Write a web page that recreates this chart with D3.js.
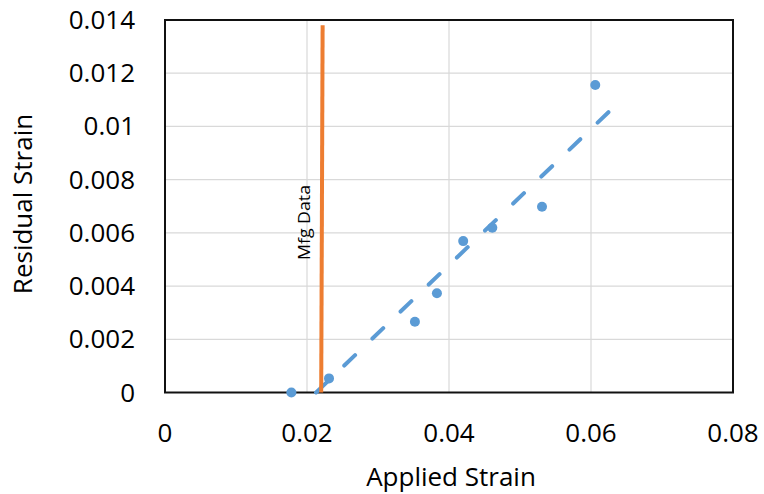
<!DOCTYPE html>
<html>
<head>
<meta charset="utf-8">
<script src="https://d3js.org/d3.v7.min.js"></script>
<style>
  body { margin: 0; background: #fff; }
  text { font-family: "Open Sans", sans-serif; fill: #000; }
</style>
</head>
<body>
<div id="chart"></div>
<script>
// measured points
const appliedStrain = [0.0178, 0.0231, 0.0352, 0.0383, 0.0420, 0.0461, 0.0531, 0.0606];
const residualStrain = [0.0000, 0.00053, 0.00266, 0.00373, 0.00569, 0.00619, 0.00698, 0.01156];
// manufacturer line
const mfgX = [0.0220, 0.0222];
const mfgY = [0, 0.0138];
const trendEnd = 0.0628;
const xTicks = [0, 0.02, 0.04, 0.06, 0.08];
const yTicks = [0, 0.002, 0.004, 0.006, 0.008, 0.01, 0.012, 0.014];

const width = 764, height = 494;
const plotLeft = 165, plotRight = 733, plotTop = 20, plotBottom = 392.5;

const svg = d3.select("#chart")
  .append("svg")
  .attr("width", width)
  .attr("height", height);

const xScale = d3.scaleLinear().domain([0, 0.08]).range([plotLeft, plotRight]);
const yScale = d3.scaleLinear().domain([0, 0.014]).range([plotBottom, plotTop]);

// gridlines
svg.append("g")
  .selectAll("line")
  .data(yTicks.slice(1, -1))
  .join("line")
  .attr("x1", plotLeft).attr("x2", plotRight)
  .attr("y1", d => yScale(d)).attr("y2", d => yScale(d))
  .attr("stroke", "#d9d9d9").attr("stroke-width", 1.2);

svg.append("g")
  .selectAll("line")
  .data(xTicks.slice(1, -1))
  .join("line")
  .attr("y1", plotTop).attr("y2", plotBottom)
  .attr("x1", d => xScale(d)).attr("x2", d => xScale(d))
  .attr("stroke", "#d9d9d9").attr("stroke-width", 1.2);

// border
svg.append("rect")
  .attr("x", plotLeft).attr("y", plotTop)
  .attr("width", plotRight - plotLeft).attr("height", plotBottom - plotTop)
  .attr("fill", "none")
  .attr("stroke", "#111").attr("stroke-width", 2);

// tick labels
svg.append("g")
  .selectAll("text")
  .data(xTicks)
  .join("text")
  .attr("x", d => xScale(d))
  .attr("y", 442)
  .attr("text-anchor", "middle")
  .attr("font-size", "26px")
  .text(d => d);

svg.append("g")
  .selectAll("text")
  .data(yTicks)
  .join("text")
  .attr("x", 135)
  .attr("y", d => yScale(d) + 9)
  .attr("text-anchor", "end")
  .attr("font-size", "26px")
  .text(d => d);

// axis titles
svg.append("text")
  .attr("x", 451).attr("y", 486)
  .attr("text-anchor", "middle")
  .attr("font-size", "26px")
  .text("Applied Strain");

svg.append("text")
  .attr("transform", "translate(32,204) rotate(-90)")
  .attr("text-anchor", "middle")
  .attr("font-size", "26px")
  .text("Residual Strain");

// linear trendline (least squares)
const mx = d3.mean(appliedStrain), my = d3.mean(residualStrain);
const slope = d3.sum(appliedStrain, (x, i) => (x - mx) * (residualStrain[i] - my)) /
  d3.sum(appliedStrain, x => (x - mx) * (x - mx));
const intercept = my - slope * mx;
const trendStart = -intercept / slope;

svg.append("line")
  .attr("x1", xScale(trendStart)).attr("y1", yScale(0))
  .attr("x2", xScale(trendEnd)).attr("y2", yScale(slope * trendEnd + intercept))
  .attr("stroke", "#5b9bd5")
  .attr("stroke-width", 4)
  .attr("stroke-linecap", "round")
  .attr("stroke-dasharray", "15,24");

// points
svg.append("g")
  .selectAll("circle")
  .data(appliedStrain)
  .join("circle")
  .attr("cx", d => xScale(d))
  .attr("cy", (_, i) => yScale(residualStrain[i]))
  .attr("r", 5)
  .attr("fill", "#5b9bd5");

// manufacturer line
svg.append("line")
  .attr("x1", xScale(mfgX[0])).attr("y1", yScale(mfgY[0]))
  .attr("x2", xScale(mfgX[1])).attr("y2", yScale(mfgY[1]))
  .attr("stroke", "#ed7d31")
  .attr("stroke-width", 4);

svg.append("text")
  .attr("transform", "translate(310,222.5) rotate(-90)")
  .attr("text-anchor", "middle")
  .attr("font-size", "17px")
  .attr("textLength", 75)
  .attr("lengthAdjust", "spacingAndGlyphs")
  .text("Mfg Data");
</script>
</body>
</html>
